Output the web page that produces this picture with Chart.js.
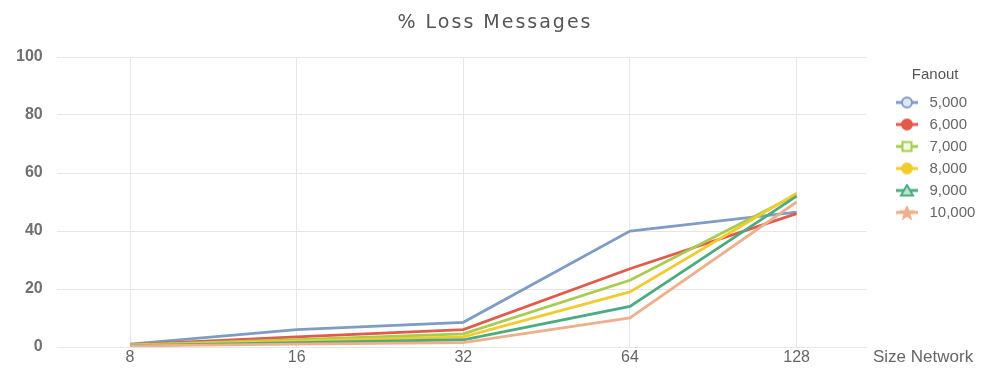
<!DOCTYPE html>
<html>
<head>
<meta charset="utf-8">
<script src="https://cdn.jsdelivr.net/npm/chart.js@4.4.1/dist/chart.umd.min.js"></script>
<style>
  html, body { margin: 0; padding: 0; background: #ffffff; }
  #wrap { width: 989px; height: 369px; }
</style>
</head>
<body>
<div id="wrap"><canvas id="c" width="989" height="369"></canvas></div>
<script>
// ---- data ----
const sizeNetwork = ['8', '16', '32', '64', '128'];
const fanoutNames = ['5,000', '6,000', '7,000', '8,000', '9,000', '10,000'];
const loss5000  = [1.0, 6.0, 8.5, 40.0, 46.5];
const loss6000  = [0.8, 3.5, 6.0, 27.0, 46.0];
const loss7000  = [0.7, 2.5, 4.5, 23.0, 52.5];
const loss8000  = [0.6, 2.0, 3.5, 19.0, 53.0];
const loss9000  = [0.5, 1.5, 2.5, 14.0, 52.0];
const loss10000 = [0.4, 1.0, 1.5, 10.0, 50.0];
const yTicks = [0, 20, 40, 60, 80, 100];
const chartTitle = '% Loss Messages';
const xTitle = 'Size Network';
const legendTitle = 'Fanout';

const series = [loss5000, loss6000, loss7000, loss8000, loss9000, loss10000];
const colors = ['#7f9cc4', '#e15a4a', '#a8cc50', '#f2cb30', '#4cac80', '#eeb08c'];
const fills  = ['#dfe8f4', '#e15a4a', '#f4f9e4', '#f2cb30', '#bfe3d1', '#eeb08c'];
const shapes = ['circle', 'circle', 'rect', 'circle', 'triangle', 'star'];

// Excel-like legend symbol: a short line with the marker on it
function legendSymbol(i) {
  const c = document.createElement('canvas');
  c.width = 22; c.height = 14;
  const g = c.getContext('2d');
  g.strokeStyle = colors[i];
  g.lineWidth = 3;
  g.beginPath(); g.moveTo(0, 7); g.lineTo(22, 7); g.stroke();
  g.fillStyle = fills[i];
  g.lineWidth = 2;
  g.beginPath();
  const s = shapes[i];
  if (s === 'circle') {
    g.arc(11, 7, 5, 0, Math.PI * 2);
  } else if (s === 'rect') {
    g.rect(6.5, 2.5, 9, 9);
  } else if (s === 'triangle') {
    g.moveTo(11, 1.5); g.lineTo(17, 12); g.lineTo(5, 12); g.closePath();
  } else {
    for (let k = 0; k < 10; k++) {
      const r = k % 2 === 0 ? 6 : 2.6;
      const a = -Math.PI / 2 + k * Math.PI / 5;
      const px = 11 + r * Math.cos(a), py = 7.5 + r * Math.sin(a);
      if (k === 0) g.moveTo(px, py); else g.lineTo(px, py);
    }
    g.closePath();
  }
  g.fill();
  g.stroke();
  return c;
}

const datasets = series.map((vals, i) => ({
  label: fanoutNames[i],
  data: vals.map((v, j) => ({ x: j, y: v })),
  borderColor: colors[i],
  backgroundColor: colors[i],
  borderWidth: 2.8,
  pointRadius: 0,
  pointHoverRadius: 0,
  pointStyle: legendSymbol(i),
  tension: 0,
  order: -i
}));

const FONT = "'Liberation Sans', Arial, sans-serif";

const textPlugin = {
  id: 'extraText',
  afterLayout(chart) {
    // place legend column like the reference (markers near x = 907)
    const lg = chart.legend;
    const dx = 885 - lg.left;
    lg.left += dx; lg.right += dx;
  },
  afterDraw(chart) {
    const ctx = chart.ctx;
    ctx.save();
    ctx.fillStyle = '#555555';
    ctx.font = "19px 'DejaVu Sans', sans-serif";
    if ('letterSpacing' in ctx) ctx.letterSpacing = '2px';
    ctx.textAlign = 'center';
    ctx.textBaseline = 'middle';
    ctx.fillText(chartTitle, 495, 23);
    if ('letterSpacing' in ctx) ctx.letterSpacing = '0px';
    ctx.font = '17px ' + FONT;
    ctx.fillStyle = '#666666';
    ctx.textAlign = 'left';
    ctx.fillText(xTitle, 873, 357);
    ctx.restore();
  }
};

new Chart(document.getElementById('c'), {
  type: 'line',
  data: { datasets },
  plugins: [textPlugin],
  options: {
    responsive: false,
    animation: false,
    layout: { padding: { top: 57, left: 2, right: 22, bottom: 0 } },
    plugins: {
      title: { display: false },
      tooltip: { enabled: false },
      legend: {
        position: 'right',
        align: 'start',
        labels: {
          usePointStyle: true,
          pointStyleWidth: 30,
          boxHeight: 14,
          padding: 7,
          color: '#666666',
          font: { family: FONT, size: 15 },
          sort: (a, b) => a.datasetIndex - b.datasetIndex
        },
        title: {
          display: true,
          text: legendTitle,
          color: '#555555',
          font: { family: FONT, size: 15 },
          padding: { top: 10, bottom: 3 }
        }
      }
    },
    scales: {
      x: {
        type: 'linear',
        min: -0.44,
        max: 4.42,
        afterBuildTicks: (axis) => { axis.ticks = sizeNetwork.map((_, i) => ({ value: i })); },
        ticks: {
          callback: (v) => sizeNetwork[v],
          color: '#666666',
          font: { family: FONT, size: 16, lineHeight: 0.6 },
          padding: 6,
          maxRotation: 0
        },
        grid: { color: '#e6e6e6', drawTicks: false },
        border: { display: false }
      },
      y: {
        min: 0,
        max: 100,
        afterBuildTicks: (axis) => { axis.ticks = yTicks.map(v => ({ value: v })); },
        ticks: {
          color: '#707070',
          font: { family: FONT, size: 16, weight: 'bold', lineHeight: 1 },
          padding: 14
        },
        grid: { color: '#e6e6e6', drawTicks: false },
        border: { display: false }
      }
    }
  }
});
</script>
</body>
</html>
